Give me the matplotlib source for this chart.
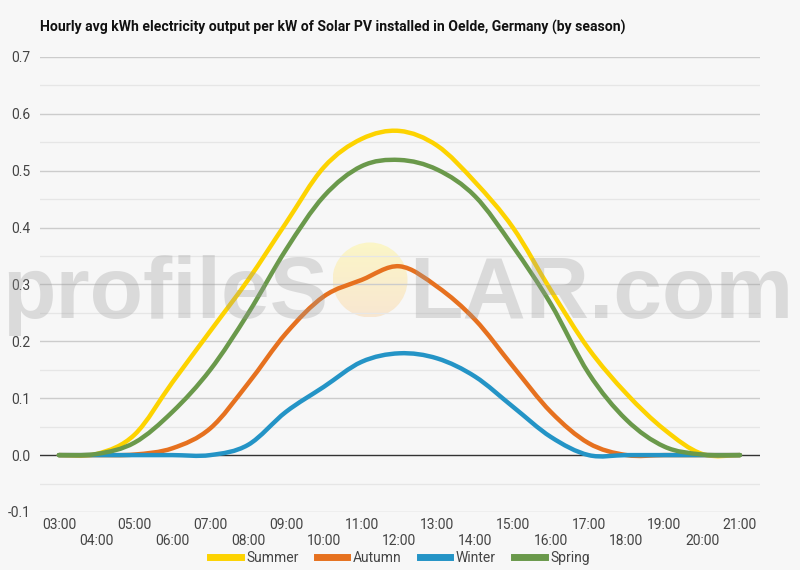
import numpy as np
import matplotlib
matplotlib.use('Agg')
import matplotlib.pyplot as plt
from matplotlib.path import Path
from matplotlib.patches import PathPatch, Circle
from matplotlib.lines import Line2D

# ---------------- data ----------------
hours = list(range(3, 22))
hour_labels = [f"{h:02d}:00" for h in hours]
series_names = ["Summer", "Autumn", "Winter", "Spring"]
summer = [0.0, 0.002, 0.036, 0.128, 0.218, 0.308, 0.408, 0.506, 0.556, 0.570,
          0.544, 0.480, 0.400, 0.290, 0.187, 0.108, 0.045, 0.002, 0.0]
autumn = [0.0, 0.0, 0.001, 0.012, 0.047, 0.126, 0.214, 0.279, 0.308, 0.332,
          0.296, 0.238, 0.156, 0.076, 0.021, 0.0, 0.0, 0.0, 0.0]
winter = [0.0, 0.0, 0.0, 0.0, 0.0, 0.018, 0.076, 0.120, 0.164, 0.179,
          0.170, 0.138, 0.085, 0.032, 0.0, 0.0, 0.0, 0.0, 0.0]
spring = [0.0, 0.002, 0.022, 0.076, 0.150, 0.249, 0.361, 0.455, 0.508, 0.519,
          0.502, 0.455, 0.367, 0.266, 0.144, 0.062, 0.015, 0.001, 0.0]
series_values = [summer, autumn, winter, spring]
colors = ["#FDD300", "#E6711F", "#2494C6", "#6A994B"]
title = "Hourly avg kWh electricity output per kW of Solar PV installed in Oelde, Germany (by season)"

plt.rcParams['font.family'] = ['Roboto', 'DejaVu Sans']

fig = plt.figure(figsize=(8, 5.7), dpi=100, facecolor='#f7f7f7')
ax = fig.add_axes([0.05, 0.1018, 0.90, 0.7982])
ax.set_facecolor('#f7f7f7')


def smooth_path(xs, ys):
    pts = np.column_stack([xs, ys]).astype(float)
    n = len(pts)
    verts = [pts[0]]
    codes = [Path.MOVETO]
    for i in range(n - 1):
        p0 = pts[i - 1] if i > 0 else pts[i]
        p1 = pts[i]
        p2 = pts[i + 1]
        p3 = pts[i + 2] if i + 2 < n else pts[i + 1]
        c1 = p1 + (p2 - p0) / 6.0
        c2 = p2 - (p3 - p1) / 6.0
        verts += [c1, c2, p2]
        codes += [Path.CURVE4] * 3
    return Path(verts, codes)


for name, vals, col in zip(series_names, series_values, colors):
    patch = PathPatch(smooth_path(hours, vals), facecolor='none', edgecolor=col,
                      lw=3.2, capstyle='round', joinstyle='round', zorder=4)
    ax.add_patch(patch)

ax.set_xlim(2.5, 21.53)
ax.set_ylim(-0.1, 0.7)

# grid
major = np.round(np.arange(-0.1, 0.71, 0.1), 2)
minor = np.round(np.arange(-0.05, 0.7, 0.1), 2)
for v in minor:
    ax.axhline(v, color='#e6e6e6', lw=0.9, zorder=1)
for v in major:
    if abs(v) < 1e-9:
        ax.axhline(v, color='#333333', lw=1.0, zorder=3)
    else:
        ax.axhline(v, color='#cccccc', lw=1.0, zorder=1)

ax.set_yticks(major)
ax.set_yticklabels([f"{v:.1f}" for v in major])
ax.set_xticks(hours)
ax.set_xticklabels([lab if i % 2 == 0 else "\n" + lab for i, lab in enumerate(hour_labels)])
ax.tick_params(axis='both', length=0, labelsize=10, colors='#444444')
ax.tick_params(axis='y', pad=7)
ax.tick_params(axis='x', pad=4)
for s in ax.spines.values():
    s.set_visible(False)
ax.patch.set_alpha(0)

fig.text(0.05, 0.951, title, fontsize=10.1, fontweight='bold', color='#111111',
         ha='left', va='center')

# legend
handles = [Line2D([], [], color=c, lw=5) for c in colors]
fig.legend(handles, series_names, loc='center', bbox_to_anchor=(0.5, 0.021), ncol=4,
           frameon=False, fontsize=10, handlelength=2.2, handletextpad=0.4,
           columnspacing=1.3, labelcolor='#444444')

# watermark: sun + text
sun_ax = fig.add_axes([0, 0, 1, 1], zorder=-1)
sun_ax.set_xlim(0, 800)
sun_ax.set_ylim(570, 0)
sun_ax.axis('off')
sun_ax.patch.set_alpha(0)
grad = np.linspace(0, 1, 100)[:, None]
top = np.array([0.985, 0.965, 0.78])
bot = np.array([0.975, 0.905, 0.82])
img = top[None, None, :] * (1 - grad[..., None]) + bot[None, None, :] * grad[..., None]
img = np.repeat(img, 2, axis=1)
im = sun_ax.imshow(img, extent=(332.5, 407.5, 317.5, 242.5), aspect='auto', zorder=1)
circ = Circle((370, 280), 37.5, transform=sun_ax.transData, facecolor='none', edgecolor='none')
sun_ax.add_patch(circ)
im.set_clip_path(circ)

wm_family = ['Liberation Sans', 'DejaVu Sans']
fig.text(328 / 800, 1 - 318 / 570, "profileS", fontsize=63, fontweight='bold',
         family=wm_family, color='#9a9a9a', alpha=0.3,
         ha='right', va='baseline', zorder=10)
fig.text(409 / 800, 1 - 318 / 570, "LAR.com", fontsize=63, fontweight='bold',
         family=wm_family, color='#9a9a9a', alpha=0.3,
         ha='left', va='baseline', zorder=10)

fig.savefig('out.png', dpi=100, facecolor=fig.get_facecolor())
